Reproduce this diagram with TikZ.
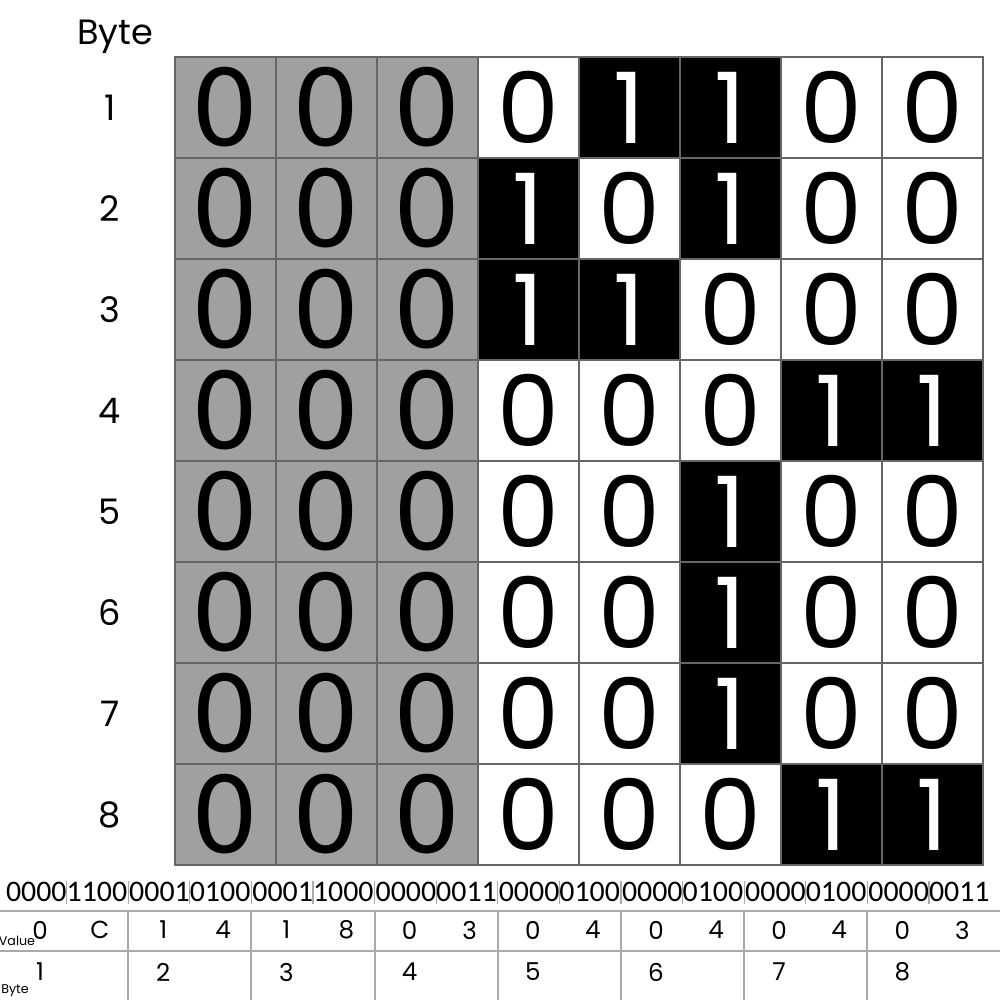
\documentclass[tikz,border=0pt]{standalone}
\usepackage{fontspec}
\usepackage{tikz}
\usetikzlibrary{positioning}
\setmainfont{Poppins}
\newfontfamily\grayfont{DejaVu Sans}
\newfontfamily\bitfont{Carlito}
\definecolor{cellgray}{HTML}{A0A0A0}
\definecolor{gridline}{HTML}{666666}
\definecolor{tabline}{HTML}{AAAAAA}

\begin{document}
\begin{tikzpicture}[x=0.01cm, y=-0.01cm,
    cell/.style={draw=gridline, line width=0.4pt, minimum width=1.01cm, minimum height=1.01cm,
      inner sep=0pt, outer sep=0pt, font=\fontsize{28}{28}\selectfont},
    cellgr/.style={cell, fill=cellgray, font=\grayfont\fontsize{30}{30}\selectfont},
    cellone/.style={cell, fill=black, text=white},
    cellzero/.style={cell, fill=white},
    bits/.style={inner sep=0pt, font=\bitfont\fontsize{8.5}{8.5}\selectfont},
    lbl/.style={inner sep=0pt, font=\fontsize{10}{10}\selectfont},
    small/.style={inner sep=0pt, font=\fontsize{7}{7}\selectfont},
    tiny/.style={inner sep=0pt, font=\fontsize{3.6}{3.6}\selectfont}]
    \useasboundingbox (0,0) rectangle (1000,1000);
    % titulo
    \node[lbl] (byte) at (115,37) {Byte};
    % rejilla de bits
    \foreach \bits/\str [count=\r] in {{0,0,0,0,1,1,0,0}/00001100,{0,0,0,1,0,1,0,0}/00010100,
                                       {0,0,0,1,1,0,0,0}/00011000,{0,0,0,0,0,0,1,1}/00000011,
                                       {0,0,0,0,0,1,0,0}/00000100,{0,0,0,0,0,1,0,0}/00000100,
                                       {0,0,0,0,0,1,0,0}/00000100,{0,0,0,0,0,0,1,1}/00000011} {
        \node[lbl] (row\r) at (110,{57+101*(\r-0.5)}) {\r};
        \foreach \b [count=\c] in \bits {
            \ifnum\c<4
                \node[cellgr] (c\r-\c) at ({175+101*(\c-0.5)},{57+101*(\r-0.5)}) {\b};
            \else\ifnum\b=1
                \node[cellone] (c\r-\c) at ({175+101*(\c-0.5)},{57+101*(\r-0.5)}) {\b};
            \else
                \node[cellzero] (c\r-\c) at ({175+101*(\c-0.5)},{57+101*(\r-0.5)}) {\b};
            \fi\fi
        }
        % cadena de bits
        \node[bits] (s\r) at ({5+123.2*(\r-0.5)},892) {\str};
    }
    % separadores de nibbles
    \foreach \k in {1,...,15}
        \draw[tabline, line width=0.3pt] ({5+61.6*\k},881) -- ({5+61.6*\k},904);
    % tabla
    \draw[tabline, line width=0.6pt] (0,911) -- (1000,911);
    \draw[tabline, line width=0.6pt] (0,951) -- (1000,951);
    \foreach \k in {1,...,7}
        \draw[tabline, line width=0.6pt] ({5+123.2*\k},911) -- ({5+123.2*\k},1000);
    \node[tiny] (value) at (17,941) {Value};
    \node[tiny] (bytelbl) at (15,991) {Byte};
    \foreach \hi/\lo [count=\k] in {0/C,1/4,1/8,0/3,0/4,0/4,0/4,0/3} {
        \node[small] (h\k) at ({5+123.2*(\k-1)+35},930) {\hi};
        \node[small] (l\k) at ({5+123.2*(\k-1)+95},930) {\lo};
        \node[small] (b\k) at ({5+123.2*(\k-1)+35},972) {\k};
    }
\end{tikzpicture}
\end{document}
